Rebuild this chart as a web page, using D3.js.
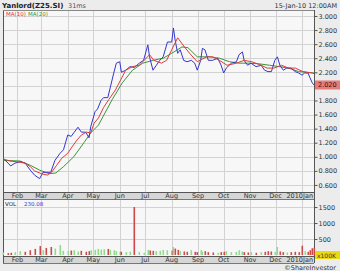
<!DOCTYPE html>
<html>
<head>
<meta charset="utf-8">
<script src="https://cdn.jsdelivr.net/npm/d3@7"></script>
<style>
  body { margin: 0; background: #ececec; }
  svg { display: block; font-family: "DejaVu Sans", Verdana, sans-serif; }
</style>
</head>
<body>
<div id="chart"></div>
<script>
// price (close)
const priceDates = ["2009-01-15","2009-01-21","2009-01-24","2009-01-29","2009-02-04","2009-02-10","2009-02-16","2009-02-21","2009-02-27","2009-03-03","2009-03-07","2009-03-12","2009-03-17","2009-03-23","2009-03-27","2009-04-01","2009-04-05","2009-04-08","2009-04-13","2009-04-17","2009-04-22","2009-04-26","2009-04-28","2009-05-03","2009-05-06","2009-05-10","2009-05-13","2009-05-18","2009-05-21","2009-05-25","2009-05-28","2009-06-01","2009-06-03","2009-06-08","2009-06-13","2009-06-18","2009-06-24","2009-06-29","2009-07-04","2009-07-06","2009-07-10","2009-07-14","2009-07-18","2009-07-22","2009-07-27","2009-08-01","2009-08-03","2009-08-05","2009-08-08","2009-08-11","2009-08-15","2009-08-19","2009-08-24","2009-08-28","2009-08-31","2009-09-04","2009-09-06","2009-09-09","2009-09-13","2009-09-18","2009-09-24","2009-09-28","2009-10-01","2009-10-04","2009-10-10","2009-10-16","2009-10-19","2009-10-23","2009-10-25","2009-10-29","2009-11-02","2009-11-08","2009-11-14","2009-11-18","2009-11-22","2009-11-26","2009-11-30","2009-12-03","2009-12-06","2009-12-10","2009-12-14","2009-12-19","2009-12-24","2009-12-28","2010-01-01","2010-01-04","2010-01-08","2010-01-10","2010-01-13","2010-01-15"];
const closes = [0.98,0.91,0.87,0.91,0.93,0.91,0.81,0.74,0.69,0.78,0.78,0.78,0.95,1.05,1.10,1.31,1.29,1.34,1.42,1.35,1.35,1.27,1.43,1.64,1.68,1.80,1.84,1.84,1.99,2.19,2.33,2.35,2.20,2.23,2.28,2.27,2.33,2.37,2.59,2.42,2.23,2.30,2.37,2.42,2.63,2.63,2.83,2.66,2.47,2.52,2.37,2.35,2.37,2.33,2.23,2.37,2.54,2.52,2.37,2.37,2.40,2.30,2.19,2.26,2.33,2.35,2.45,2.49,2.37,2.30,2.33,2.28,2.30,2.23,2.21,2.21,2.37,2.42,2.30,2.23,2.26,2.26,2.21,2.19,2.16,2.19,2.19,2.13,2.05,2.02];
// volume, same dates (units of the axis)
const volumes = [80,60,70,90,120,100,150,190,280,150,220,250,200,310,130,120,140,150,110,130,100,120,150,160,190,170,180,190,160,150,120,110,100,90,100,1500,90,70,160,140,130,120,130,160,150,140,250,200,160,130,110,100,150,100,90,150,100,120,90,80,70,90,100,120,90,100,150,110,90,80,90,70,90,100,120,110,100,250,110,90,80,90,100,90,290,120,100,150,210,230];

const ma10Dates = ["2009-01-15","2009-01-23","2009-01-31","2009-02-10","2009-02-16","2009-02-21","2009-03-01","2009-03-08","2009-03-13","2009-03-19","2009-03-25","2009-04-01","2009-04-06","2009-04-12","2009-04-17","2009-04-23","2009-04-28","2009-05-02","2009-05-07","2009-05-13","2009-05-19","2009-05-27","2009-06-02","2009-06-08","2009-06-16","2009-06-24","2009-07-06","2009-07-11","2009-07-20","2009-07-26","2009-08-01","2009-08-08","2009-08-16","2009-08-22","2009-08-31","2009-09-11","2009-09-18","2009-09-26","2009-10-05","2009-10-16","2009-10-25","2009-11-03","2009-11-14","2009-11-21","2009-11-29","2009-12-08","2009-12-16","2009-12-24","2010-01-02","2010-01-13","2010-01-15"];
const ma10 = [0.97,0.94,0.93,0.91,0.86,0.80,0.76,0.74,0.78,0.88,0.98,1.05,1.14,1.24,1.31,1.35,1.34,1.48,1.55,1.70,1.81,1.95,2.09,2.23,2.28,2.30,2.45,2.37,2.33,2.37,2.52,2.69,2.56,2.47,2.35,2.42,2.42,2.37,2.30,2.33,2.37,2.35,2.30,2.26,2.26,2.30,2.26,2.26,2.21,2.19,2.18];

const ma20Dates = ["2009-01-15","2009-02-04","2009-02-16","2009-02-27","2009-03-10","2009-03-18","2009-03-27","2009-04-08","2009-04-20","2009-04-28","2009-05-07","2009-05-23","2009-06-04","2009-06-16","2009-06-28","2009-07-10","2009-07-22","2009-08-01","2009-08-13","2009-08-20","2009-08-31","2009-09-15","2009-09-26","2009-10-08","2009-10-19","2009-11-01","2009-11-12","2009-11-24","2009-12-06","2009-12-16","2009-12-28","2010-01-15"];
const ma20 = [0.95,0.94,0.88,0.81,0.76,0.77,0.86,1.00,1.20,1.34,1.45,1.81,2.05,2.23,2.33,2.37,2.40,2.47,2.56,2.55,2.42,2.42,2.40,2.35,2.33,2.33,2.32,2.30,2.28,2.26,2.21,2.19];

const priceTicks = [0.6,0.8,1.0,1.2,1.4,1.6,1.8,2.0,2.2,2.4,2.6,2.8,3.0];
const volTicks = [500,1000,1500];
const lastClose = 2.020;

const parse = d3.timeParse("%Y-%m-%d");
const width = 340, height = 271;
const L = 3, R = 314;
const pTop = 10, pBot = 192, vTop = 200, vBot = 256;

const svg = d3.select("#chart").append("svg")
    .attr("width", width).attr("height", height);

svg.append("rect").attr("width", width).attr("height", height).attr("fill", "#ececec");

const x = d3.scaleTime()
    .domain([parse("2009-01-15"), parse("2010-01-15")])
    .range([L, R]);
const y = d3.scaleLinear().domain([0.5, 3.085]).range([pBot, pTop]);
const yv = d3.scaleLinear().domain([0, 1720]).range([vBot - 1, vTop]);

const months = d3.timeMonth.range(parse("2009-02-01"), parse("2010-01-02"));

// panels
[[pTop, pBot], [vTop, vBot]].forEach(([t, b]) => {
    svg.append("rect").attr("x", L).attr("y", t).attr("width", R - L).attr("height", b - t)
       .attr("fill", "#f7f7f7");
    svg.append("g").selectAll("line").data(months).join("line")
       .attr("x1", d => Math.round(x(d)) + 0.5).attr("x2", d => Math.round(x(d)) + 0.5)
       .attr("y1", t).attr("y2", b).attr("stroke", "#d2d2d2");
});

svg.append("g").selectAll("line").data(priceTicks).join("line")
   .attr("x1", L).attr("x2", R)
   .attr("y1", d => Math.round(y(d)) + 0.5).attr("y2", d => Math.round(y(d)) + 0.5)
   .attr("stroke", "#d2d2d2");
svg.append("g").selectAll("line").data(volTicks).join("line")
   .attr("x1", L).attr("x2", R)
   .attr("y1", d => Math.round(yv(d)) + 0.5).attr("y2", d => Math.round(yv(d)) + 0.5)
   .attr("stroke", "#d2d2d2");

// month bands
function monthBand(top) {
    svg.append("rect").attr("x", L).attr("y", top).attr("width", R - L).attr("height", 7)
       .attr("fill", "#d6d6d6");
    svg.append("line").attr("x1", L).attr("x2", R).attr("y1", top + 0.5).attr("y2", top + 0.5)
       .attr("stroke", "#555");
    svg.append("line").attr("x1", L).attr("x2", R).attr("y1", top + 7.5).attr("y2", top + 7.5)
       .attr("stroke", "#777");
    svg.append("g").selectAll("text").data(months).join("text")
       .attr("x", d => d.getMonth() === 0 ? R - 1 : x(d))
       .attr("y", top + 6.3)
       .attr("text-anchor", d => d.getMonth() === 0 ? "end" : "middle")
       .attr("font-size", 6.5).attr("fill", "#333")
       .text(d => d.getMonth() === 0 ? d3.timeFormat("%Y")(d) + "Jan" : d3.timeFormat("%b")(d));
}
monthBand(pBot);
monthBand(vBot);

// borders
svg.append("line").attr("x1", L + 0.5).attr("x2", L + 0.5).attr("y1", pTop).attr("y2", vBot + 7)
   .attr("stroke", "#555");
svg.append("line").attr("x1", R + 0.5).attr("x2", R + 0.5).attr("y1", pTop).attr("y2", vBot + 7)
   .attr("stroke", "#555");
svg.append("line").attr("x1", L).attr("x2", R).attr("y1", pTop + 0.5).attr("y2", pTop + 0.5)
   .attr("stroke", "#888");

// right axes
const yAxis = d3.axisRight(y).tickValues(priceTicks).tickFormat(d3.format(".3f")).tickSize(3);
const gy = svg.append("g").attr("transform", `translate(${R + 0.5},0)`).call(yAxis);
const yvAxis = d3.axisRight(yv).tickValues(volTicks).tickFormat(d3.format("d")).tickSize(3);
const gyv = svg.append("g").attr("transform", `translate(${R + 0.5},0)`).call(yvAxis);
[gy, gyv].forEach(g => {
    g.select(".domain").remove();
    g.selectAll("line").attr("stroke", "#555");
    g.selectAll("text").attr("font-size", 6.5).attr("fill", "#333").attr("x", 4)
     .attr("font-family", "DejaVu Sans, sans-serif");
});

// volume bars, coloured by the move of the close
const vData = priceDates.map((d, i) => ({
    date: parse(d), v: volumes[i],
    up: i === 0 ? true : closes[i] > closes[i - 1]
}));
svg.append("g").selectAll("rect").data(vData).join("rect")
   .attr("x", d => Math.round(x(d.date)) - 0.5)
   .attr("width", 1.6)
   .attr("y", d => yv(d.v))
   .attr("height", d => yv(0) - yv(d.v))
   .attr("fill", d => d.up ? "#8fdc8f" : "#cc4a4a");

// price lines
function drawLine(dates, vals, color, w) {
    const pts = dates.map((d, i) => [parse(d), vals[i]]);
    svg.append("path").datum(pts)
       .attr("fill", "none").attr("stroke", color).attr("stroke-width", w)
       .attr("d", d3.line().x(d => x(d[0])).y(d => y(d[1])));
}
drawLine(ma20Dates, ma20, "#3a953a", 1);
drawLine(priceDates, closes, "#3535d0", 1);
drawLine(ma10Dates, ma10, "#dd3b3b", 1);

// last price marker
svg.append("rect").attr("x", R + 1).attr("y", y(lastClose) - 4.5).attr("width", 25).attr("height", 9)
   .attr("fill", "#e57c7a");
svg.append("text").attr("x", R + 4).attr("y", y(lastClose) + 2.5)
   .attr("font-size", 6.5).attr("fill", "#3a1010").text(d3.format(".3f")(lastClose));

// volume unit box
svg.append("rect").attr("x", R + 1).attr("y", vBot - 5).attr("width", 25).attr("height", 8)
   .attr("fill", "#e8dc10");
svg.append("text").attr("x", R + 3).attr("y", vBot + 1.5)
   .attr("font-size", 6).attr("fill", "#333").text("x100K");

// header texts
svg.append("text").attr("x", 2).attr("y", 7.5).attr("font-size", 7).attr("font-weight", "bold")
   .attr("fill", "#222").text("Yanlord(Z25.SI)");
svg.append("text").attr("x", 68).attr("y", 7.5).attr("font-size", 6.5)
   .attr("fill", "#555").text("31ms");
svg.append("text").attr("x", 337).attr("y", 7.5).attr("font-size", 6.5).attr("text-anchor", "end")
   .attr("fill", "#333").text("15-Jan-10 12:00AM");

svg.append("text").attr("x", 6).attr("y", 15.5).attr("font-size", 5.5).attr("fill", "#d33").text("MA(10)");
svg.append("text").attr("x", 28).attr("y", 15.5).attr("font-size", 5.5).attr("fill", "#393").text("MA(20)");

svg.append("text").attr("x", 5).attr("y", vTop + 5.5).attr("font-size", 5.5).attr("fill", "#222").text("VOL");
svg.append("text").attr("x", 24).attr("y", vTop + 5.5).attr("font-size", 5.5).attr("fill", "#33c").text("230.08");

svg.append("text").attr("x", 336).attr("y", 269.5).attr("font-size", 6.5).attr("text-anchor", "end")
   .attr("fill", "#333").text("©ShareInvestor");
</script>
</body>
</html>
